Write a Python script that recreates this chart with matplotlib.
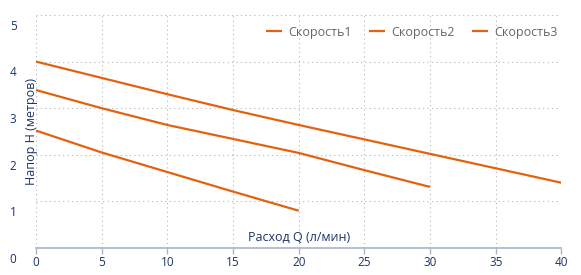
import numpy as np
import matplotlib
matplotlib.use("Agg")
import matplotlib.pyplot as plt
import matplotlib.transforms as mtransforms

# flow Q (l/min) and head H (m) for each pump speed
q1 = [0, 5, 10, 15, 20]
h1 = [2.52, 2.05, 1.63, 1.21, 0.80]
q2 = [0, 5, 10, 15, 20, 25, 30]
h2 = [3.39, 3.00, 2.64, 2.34, 2.04, 1.67, 1.31]
q3 = [0, 5, 10, 15, 20, 25, 30, 35, 40]
h3 = [4.00, 3.65, 3.30, 2.96, 2.64, 2.33, 2.02, 1.71, 1.40]
names = ["Скорость1", "Скорость2", "Скорость3"]
xticks = [0, 5, 10, 15, 20, 25, 30, 35, 40]
yticks = [0, 1, 2, 3, 4, 5]

plt.rcParams['font.family'] = ['Open Sans', 'DejaVu Sans']
navy = "#1b3566"
orange = "#e2620f"

fig = plt.figure(figsize=(5.81, 2.75), dpi=100)
ax = fig.add_axes([36/581, 27/275, 525.5/581, 233/275])

for q, h, n in zip([q1, q2, q3], [h1, h2, h3], names):
    ax.plot(q, h, color=orange, lw=1.6, label=n, solid_capstyle="butt")

ax.set_xlim(0, 40)
ax.set_ylim(0, 5)
ax.set_xticks(xticks)
ax.set_yticks(yticks)
ax.grid(True, ls=(0, (1, 3)), color="#b5b5b5", lw=0.8)
for s in ["top", "right", "left"]:
    ax.spines[s].set_visible(False)
ax.spines["bottom"].set_color("#a7b5c8")
ax.spines["bottom"].set_linewidth(1.2)
ax.tick_params(axis="x", colors="#a7b5c8", length=4, width=1, labelcolor=navy, labelsize=8.5, pad=2)
ax.tick_params(axis="y", length=0, labelcolor=navy, labelsize=8.5, pad=14)
# y labels sit a bit below their grid lines
off = mtransforms.ScaledTranslation(0, -7/72, fig.dpi_scale_trans)
for lab in ax.get_yticklabels():
    lab.set_transform(lab.get_transform() + off)

ax.text(20.0, 0.08, "Расход Q (л/мин)", color=navy, fontsize=9, ha="center", va="bottom")
ax.text(-0.38, 2.5, "Напор H (метров)", color=navy, fontsize=9, rotation=90, ha="center", va="center")

leg = ax.legend(loc="upper right", ncol=3, frameon=False, fontsize=9, handlelength=1.3,
                handletextpad=0.5, columnspacing=1.35, bbox_to_anchor=(1.013, 1.0), borderaxespad=0.45)
for t in leg.get_texts():
    t.set_color("#666666")

fig.savefig("out.png", dpi=100)
